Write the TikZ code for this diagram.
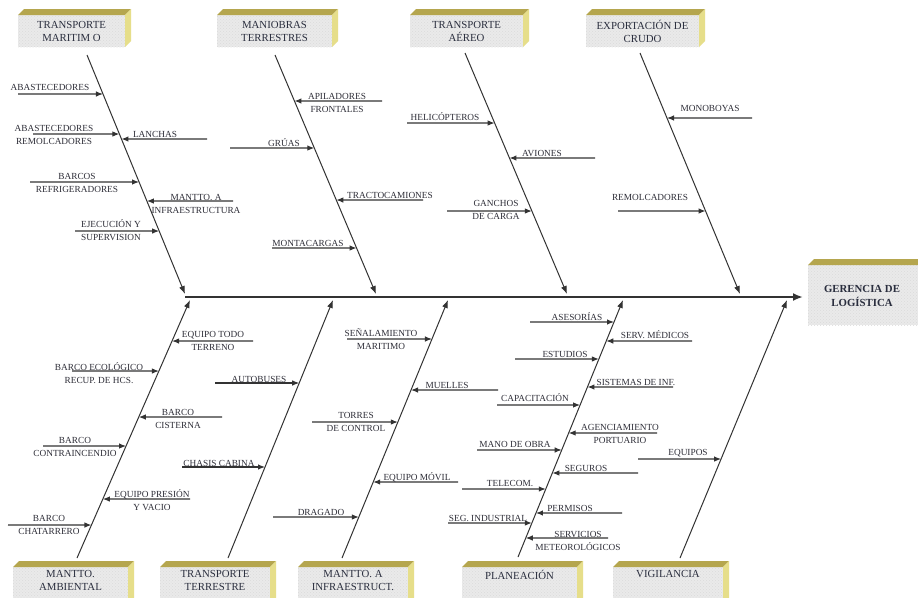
\documentclass[tikz,border=0pt]{standalone}
\usepackage{fontspec}
\setmainfont{Liberation Serif}
\usetikzlibrary{arrows.meta,patterns}
\definecolor{txtc}{HTML}{2E2E38}
\definecolor{linec}{HTML}{333333}
\definecolor{facec}{HTML}{EAEAEA}
\definecolor{topc}{HTML}{B5A64E}
\definecolor{sidec}{HTML}{E6DE8A}
\definecolor{headc}{HTML}{2A2E3E}
\tikzset{
  lbl/.style={font=\fontsize{9.3}{13}\selectfont, align=center, inner sep=0pt, text=txtc},
  headtxt/.style={font=\fontsize{10.8}{13}\selectfont, align=center, inner sep=0pt, text=headc},
  twigline/.style={draw=linec, line width=1.1pt, -{Latex[length=7pt,width=5.5pt]}},
  boneline/.style={draw=linec, line width=1pt, -{Latex[length=8pt,width=6pt]}},
  spineline/.style={draw=linec, line width=2pt, -{Latex[length=10pt,width=8pt]}},
}
\newcommand\cubebox[5]{%
  \path[fill=facec] (#2,#3) rectangle (#4,#5);
  \path[pattern=crosshatch dots, pattern color=black!14] (#2,#3) rectangle (#4,#5);
  \fill[topc] (#2,#3) -- (#2+6,#3-6) -- (#4+6,#3-6) -- (#4,#3) -- cycle;
  \fill[sidec] (#4,#3) -- (#4+6,#3-6) -- (#4+6,#5-6) -- (#4,#5) -- cycle;
  \coordinate (#1) at ({(#2+#4)/2},{(#3+#5)/2});
}
\newcommand\twig[7]{%
  \coordinate (#1f) at (#4,#3);
  \coordinate (#1t) at (intersection of #2s--#2e and 0,#3--900,#3);
  \draw[twigline] (#1f) -- (#1t);
  \node[lbl] (#1l) at (#5,#6) {#7};
}
\begin{document}
\begin{tikzpicture}[x=1pt,y=-1pt]
\useasboundingbox (0,0) rectangle (918,597);
\clip (0,0) rectangle (918,597);
\fill[white] (0,0) rectangle (918,597);

% header boxes
\cubebox{H1}{18}{15}{125}{47}
\node[headtxt] (H1t) at (71.5,31) {TRANSPORTE\\MARITIM O};
\cubebox{H2}{217}{15}{332}{47}
\node[headtxt] (H2t) at (274.5,31) {MANIOBRAS\\TERRESTRES};
\cubebox{H3}{410}{15}{523}{47}
\node[headtxt] (H3t) at (466.5,31) {TRANSPORTE\\AÉREO};
\cubebox{H4}{586}{15}{699}{47}
\node[headtxt] (H4t) at (642.5,31) {EXPORTACIÓN DE\\CRUDO};

\cubebox{B1}{13}{567}{128}{605}
\node[headtxt] (B1t) at (70.5,580) {MANTTO.\\AMBIENTAL};
\cubebox{B2}{160}{567}{270}{605}
\node[headtxt] (B2t) at (215,580) {TRANSPORTE\\TERRESTRE};
\cubebox{B3}{298}{567}{408}{605}
\node[headtxt] (B3t) at (353,580) {MANTTO. A\\INFRAESTRUCT.};
\cubebox{B4}{462}{567}{577}{605}
\node[headtxt] (B4t) at (519.5,575) {PLANEACIÓN};
\cubebox{B5}{613}{567}{723}{605}
\node[headtxt] (B5t) at (668,574) {VIGILANCIA};

\cubebox{G}{808}{265}{935}{325}
\node[headtxt, font=\bfseries\fontsize{10.8}{14}\selectfont] (Gt) at (862,296) {GERENCIA DE\\LOGÍSTICA};

% spine
\coordinate (sp0) at (185,297);
\coordinate (sp1) at (803,297);
\draw[spineline] (sp0) -- (sp1);

% bones
\coordinate (T1s) at (87,55);   \coordinate (T1e) at (185,294);
\coordinate (T2s) at (275,55);  \coordinate (T2e) at (376,294);
\coordinate (T3s) at (465,53);  \coordinate (T3e) at (567,294);
\coordinate (T4s) at (640,53);  \coordinate (T4e) at (740,294);
\coordinate (BAs) at (77,558);  \coordinate (BAe) at (190,300);
\coordinate (BBs) at (228,558); \coordinate (BBe) at (333,300);
\coordinate (BCs) at (342,558); \coordinate (BCe) at (448,300);
\coordinate (BDs) at (518,557); \coordinate (BDe) at (623,300);
\coordinate (BEs) at (680,558); \coordinate (BEe) at (787,300);
\foreach \b in {T1,T2,T3,T4,BA,BB,BC,BD,BE}{\draw[boneline] (\b s) -- (\b e);}

% twigs: name, bone, y, free x, label x, label y, text
\twig{a1}{T1}{94}{18}{50}{87}{ABASTECEDORES}
\twig{a2}{T1}{134}{33}{54}{135}{ABASTECEDORES\\REMOLCADORES}
\twig{a3}{T1}{139}{207}{155}{134}{LANCHAS}
\twig{a4}{T1}{182}{30}{77}{182.5}{BARCOS\\REFRIGERADORES}
\twig{a5}{T1}{201}{233}{196}{203.5}{MANTTO. A\\INFRAESTRUCTURA}
\twig{a6}{T1}{231}{75}{111}{230.5}{EJECUCIÓN Y\\SUPERVISION}

\twig{b1}{T2}{101}{382}{337}{102.5}{APILADORES\\FRONTALES}
\twig{b2}{T2}{148}{230}{284}{143}{GRÚAS}
\twig{b3}{T2}{200}{423}{390}{195}{TRACTOCAMIONES}
\twig{b4}{T2}{248}{272}{308}{243}{MONTACARGAS}

\twig{c1}{T3}{123}{407}{445}{117}{HELICÓPTEROS}
\twig{c2}{T3}{158}{595}{542}{153}{AVIONES}
\twig{c3}{T3}{211}{447}{496}{210}{GANCHOS\\DE CARGA}

\twig{d1}{T4}{118}{752}{710}{108}{MONOBOYAS}
\twig{d2}{T4}{211}{618}{650}{197}{REMOLCADORES}

\twig{e1}{BA}{341}{253}{213}{341}{EQUIPO TODO\\TERRENO}
\twig{e2}{BA}{371}{72}{99}{373.5}{BARCO ECOLÓGICO\\RECUP. DE HCS.}
\twig{e3}{BA}{417}{222}{178}{418.5}{BARCO\\CISTERNA}
\twig{e4}{BA}{446}{43}{75}{446.5}{BARCO\\CONTRAINCENDIO}
\twig{e5}{BA}{499}{190}{152}{500}{EQUIPO PRESIÓN\\Y VACIO}
\twig{e6}{BA}{525}{8}{49}{524.5}{BARCO\\CHATARRERO}

\twig{f1}{BB}{383}{215}{259}{379}{AUTOBUSES}
\twig{f2}{BB}{467}{182}{219}{463}{CHASIS CABINA}

\twig{g1}{BC}{339}{347}{381}{339.5}{SEÑALAMIENTO\\MARITIMO}
\twig{g2}{BC}{390}{498}{447}{385}{MUELLES}
\twig{g3}{BC}{422}{312}{356}{422}{TORRES\\DE CONTROL}
\twig{g4}{BC}{482}{458}{417}{477}{EQUIPO MÓVIL}
\twig{g5}{BC}{517}{273}{321}{512}{DRAGADO}

\twig{h1}{BD}{322}{530}{577}{317}{ASESORÍAS}
\twig{h2}{BD}{341}{692}{655}{335}{SERV. MÉDICOS}
\twig{h3}{BD}{359}{515}{565}{354}{ESTUDIOS}
\twig{h4}{BD}{387}{673}{636}{382}{SISTEMAS DE INF.}
\twig{h5}{BD}{405}{497}{535}{398}{CAPACITACIÓN}
\twig{h6}{BD}{433}{657}{620}{433.5}{AGENCIAMIENTO\\PORTUARIO}
\twig{h7}{BD}{450}{477}{515}{444}{MANO DE OBRA}
\twig{h8}{BD}{473}{638}{586}{468}{SEGUROS}
\twig{h9}{BD}{489}{462}{510}{483}{TELECOM.}
\twig{h10}{BD}{513}{622}{570}{508}{PERMISOS}
\twig{h11}{BD}{523}{448}{488}{518}{SEG. INDUSTRIAL}
\twig{h12}{BD}{538}{608}{578}{541}{SERVICIOS\\METEOROLÓGICOS}

\twig{i1}{BE}{459}{638}{688}{453}{EQUIPOS}
\end{tikzpicture}
\end{document}
